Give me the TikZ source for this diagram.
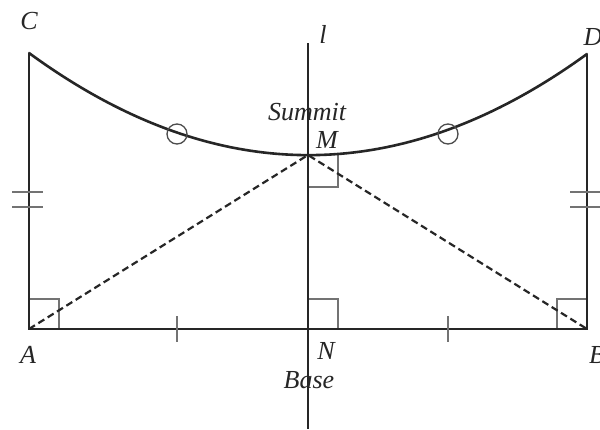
\documentclass[tikz,border=0pt]{standalone}
\usepackage{fontspec}
\setmainfont{Liberation Serif}
\begin{document}
\begin{tikzpicture}[x=1pt,y=-1pt,
  lbl/.style={font=\fontsize{26}{30}\selectfont\itshape, text=black!85, inner sep=0pt},
  heavy/.style={line width=2.6pt, black!85},
  rtmark/.style={line width=1.3pt, black!55},
  tickmark/.style={line width=1.5pt, black!55},
  dashline/.style={line width=2.2pt, black!85, dash pattern=on 7pt off 4pt}]
\useasboundingbox[fill=white] (0,0) rectangle (600,429);
\coordinate (A) at (29,329);
\coordinate (B) at (587,329);
\coordinate (C) at (29,53);
\coordinate (D) at (587,54);
\coordinate (M) at (308,155);
\coordinate (N) at (308,329);
\coordinate (Ltop) at (308,43);
\coordinate (Lbot) at (308,429);
% right angle marks
\draw[rtmark] (29,299) -- (59,299) -- (59,329);
\draw[rtmark] (308,299) -- (338,299) -- (338,329);
\draw[rtmark] (587,299) -- (557,299) -- (557,329);
\draw[rtmark] (308,187) -- (338,187) -- (338,155);
% line l
\draw[line width=1.3pt, black!85] (Ltop) -- (Lbot);
% rectangle sides
\draw[heavy, line cap=round] (C) -- (A) -- (B) -- (D);
% curve
\draw[heavy] (C) .. controls (215,189) and (401,189) .. (D);
% dashed
\draw[dashline] (A) -- (M) -- (B);
% equal ticks
\draw[tickmark] (177,316) -- (177,342);
\draw[tickmark] (448,316) -- (448,342);
\draw[tickmark] (12,192) -- (43,192);
\draw[tickmark] (12,207) -- (43,207);
\draw[tickmark] (570,192) -- (600,192);
\draw[tickmark] (570,207) -- (600,207);
% circles
\draw[line width=1.3pt, black!70] (177,134) circle (10);
\draw[line width=1.3pt, black!70] (448,134) circle (10);
% labels
\node[lbl] (lC) at (29,21) {C};
\node[lbl] (lD) at (593,37) {D};
\node[lbl] (lA) at (28,355) {A};
\node[lbl] (lB) at (597,355) {B};
\node[lbl] (lN) at (326,351) {N};
\node[lbl] (lM) at (327,140) {M};
\node[lbl] (ll) at (323,34) {l};
\node[lbl] (lS) at (307,112) {Summit};
\node[lbl] (lBase) at (309,380) {Base};
\end{tikzpicture}
\end{document}
